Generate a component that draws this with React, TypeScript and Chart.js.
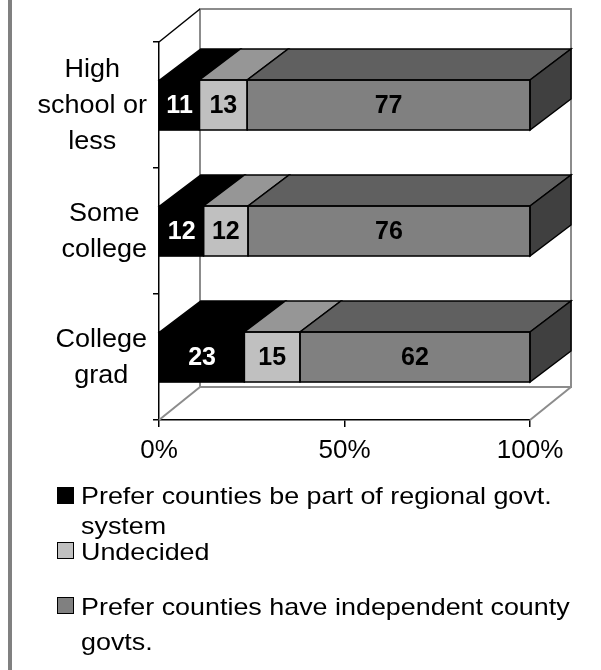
import React, { useEffect, useRef } from "react";
import { Chart, registerables } from "chart.js";

Chart.register(...registerables);

// ---- data ----
const categories = [["High", "school or", "less"], ["Some", "college"], ["College", "grad"]];
const seriesNames = [
  "Prefer counties be part of regional govt. system",
  "Undecided",
  "Prefer counties have independent county govts.",
];
const regional = [11, 12, 23];
const undecided = [13, 12, 15];
const independent = [77, 76, 62];
const xTickValues = [0, 50, 100];
const legendLines = [
  ["Prefer counties be part of regional govt.", "system"],
  ["Undecided"],
  ["Prefer counties have independent county", "govts."],
];

// ---- styles ----
const frontColors = ["#000000", "#C0C0C0", "#808080"];
const topColors = ["#000000", "#969696", "#606060"];
const sideColor = "#404040";
const labelColors = ["#FFFFFF", "#000000", "#000000"];
const FONT = "'Liberation Sans', Arial, Helvetica, sans-serif";
const BAR_DX = 41;
const BAR_DY = 31;
const WALL_DX = 41;
const WALL_DY = 33;
const Y_LABEL_SIZE = 25;
const Y_LABEL_STRETCH = 1.08;
const Y_LABEL_LINE = 36;
const Y_LABEL_GAP = 12;

const rawSeries = [regional, undecided, independent];
const totals = categories.map((_, i) => rawSeries.reduce((s, arr) => s + arr[i], 0));

const threeDPlugin = {
  id: "threeD",
  beforeDatasetsDraw(chart: any) {
    const { ctx, chartArea: a } = chart;
    ctx.save();
    const line = (x1: number, y1: number, x2: number, y2: number) => {
      ctx.beginPath();
      ctx.moveTo(x1, y1);
      ctx.lineTo(x2, y2);
      ctx.stroke();
    };
    ctx.strokeStyle = "#8c8c8c";
    ctx.lineWidth = 2;
    ctx.strokeRect(a.left + WALL_DX, a.top - WALL_DY, a.right - a.left, a.bottom - a.top);
    line(a.left, a.bottom, a.left + WALL_DX, a.bottom - WALL_DY);
    line(a.right, a.bottom, a.right + WALL_DX, a.bottom - WALL_DY);
    ctx.strokeStyle = "#000000";
    ctx.lineWidth = 1.5;
    line(a.left, a.top, a.left + WALL_DX, a.top - WALL_DY);
    ctx.restore();
  },
  afterDatasetsDraw(chart: any) {
    const { ctx } = chart;
    ctx.save();
    ctx.lineWidth = 1.5;
    ctx.strokeStyle = "#000000";
    ctx.lineJoin = "miter";
    const n = chart.data.datasets.length;
    for (let i = 0; i < categories.length; i++) {
      for (let d = 0; d < n; d++) {
        const el = chart.getDatasetMeta(d).data[i];
        const p = el.getProps(["x", "y", "base", "height"], true);
        const x0 = Math.min(p.x, p.base);
        const x1 = Math.max(p.x, p.base);
        const top = p.y - p.height / 2;
        const bottom = p.y + p.height / 2;
        // top face
        ctx.beginPath();
        ctx.moveTo(x0, top);
        ctx.lineTo(x1, top);
        ctx.lineTo(x1 + BAR_DX, top - BAR_DY);
        ctx.lineTo(x0 + BAR_DX, top - BAR_DY);
        ctx.closePath();
        ctx.fillStyle = topColors[d];
        ctx.fill();
        ctx.stroke();
        // side face of last segment
        if (d === n - 1) {
          ctx.beginPath();
          ctx.moveTo(x1, top);
          ctx.lineTo(x1 + BAR_DX, top - BAR_DY);
          ctx.lineTo(x1 + BAR_DX, bottom - BAR_DY);
          ctx.lineTo(x1, bottom);
          ctx.closePath();
          ctx.fillStyle = sideColor;
          ctx.fill();
          ctx.stroke();
        }
        // front outline
        ctx.strokeRect(x0, top, x1 - x0, bottom - top);
        // value label
        ctx.fillStyle = labelColors[d];
        ctx.font = `bold 25px ${FONT}`;
        ctx.textAlign = "center";
        ctx.textBaseline = "middle";
        ctx.fillText(String(rawSeries[d][i]), (x0 + x1) / 2, p.y + 1);
      }
    }
    ctx.restore();
  },
  afterDraw(chart: any) {
    // category labels: each multi-line block centred on its own widest line, right edge near the axis
    const { ctx } = chart;
    const yScale = chart.scales.y;
    const right = yScale.right - Y_LABEL_GAP;
    categories.forEach((lines, i) => {
      const cy = yScale.getPixelForValue(i);
      ctx.save();
      ctx.font = `${Y_LABEL_SIZE}px ${FONT}`;
      const widest = Math.max(...lines.map((t) => ctx.measureText(t).width)) * Y_LABEL_STRETCH;
      const cx = right - widest / 2;
      ctx.translate(cx, cy + 1);
      ctx.scale(Y_LABEL_STRETCH, 1);
      ctx.fillStyle = "#000000";
      ctx.textAlign = "center";
      ctx.textBaseline = "middle";
      lines.forEach((t, k) => {
        ctx.fillText(t, 0, (k - (lines.length - 1) / 2) * Y_LABEL_LINE);
      });
      ctx.restore();
    });
  },
};

export default function App() {
  const canvasRef = useRef<HTMLCanvasElement | null>(null);

  useEffect(() => {
    const canvas = canvasRef.current;
    if (!canvas) return;
    const datasets = rawSeries.map((arr, d) => ({
      label: seriesNames[d],
      data: arr.map((v, i) => (v / totals[i]) * 100),
      backgroundColor: frontColors[d],
      borderWidth: 0,
      barThickness: 50,
    }));
    const chart = new Chart(canvas, {
      type: "bar",
      data: { labels: categories, datasets },
      options: {
        indexAxis: "y",
        responsive: false,
        animation: false,
        devicePixelRatio: 1,
        layout: { padding: { left: 0, right: 71, top: 42, bottom: 200 } },
        plugins: { legend: { display: false }, tooltip: { enabled: false } },
        scales: {
          x: {
            type: "linear",
            stacked: true,
            min: 0,
            max: 100,
            afterFit: (s: any) => {
              s.height = 50;
            },
            afterBuildTicks: (s: any) => {
              s.ticks = xTickValues.map((v) => ({ value: v }));
            },
            grid: { drawOnChartArea: false, drawTicks: true, tickLength: 7, color: "#000000", lineWidth: 1.5 },
            border: { display: true, color: "#000000", width: 1.5 },
            ticks: {
              callback: (v: any) => v + "%",
              color: "#000000",
              padding: 8,
              maxRotation: 0,
              font: { family: FONT, size: 26 },
            },
          },
          y: {
            type: "category",
            stacked: true,
            afterFit: (s: any) => {
              s.width = 159;
            },
            grid: { offset: true, drawOnChartArea: false, drawTicks: true, tickLength: 6, color: "#000000", lineWidth: 1.5 },
            border: { display: true, color: "#000000", width: 1.5 },
            ticks: {
              display: false,
              font: { family: FONT, size: Y_LABEL_SIZE },
            },
          },
        },
      },
      plugins: [threeDPlugin],
    });
    return () => chart.destroy();
  }, []);

  const legendTops = [481, 537, 589];
  const legendLineHeights = [30, 30, 35];
  const markerTops = [487, 542, 597];

  return (
    <div style={{ position: "absolute", left: 0, top: 0, width: 601, height: 670, background: "#ffffff", overflow: "hidden" }}>
      <canvas ref={canvasRef} width={601} height={670} style={{ position: "absolute", left: 0, top: 0, width: 601, height: 670 }} />
      <div style={{ position: "absolute", left: 8, top: 0, width: 4, height: 670, background: "#808080" }} />
      {legendLines.map((lines, d) => (
        <React.Fragment key={d}>
          <div
            style={{
              position: "absolute",
              left: 57,
              top: markerTops[d],
              width: 17,
              height: 17,
              background: frontColors[d],
              border: "1.5px solid #000",
              boxSizing: "border-box",
            }}
          />
          <div
            style={{
              position: "absolute",
              left: 81,
              top: legendTops[d],
              fontFamily: FONT,
              fontSize: 24,
              lineHeight: legendLineHeights[d] + "px",
              color: "#000",
              whiteSpace: "nowrap",
              transform: "scaleX(1.12)",
              transformOrigin: "0 0",
            }}
          >
            {lines.map((t, k) => (
              <div key={k}>{t}</div>
            ))}
          </div>
        </React.Fragment>
      ))}
    </div>
  );
}
